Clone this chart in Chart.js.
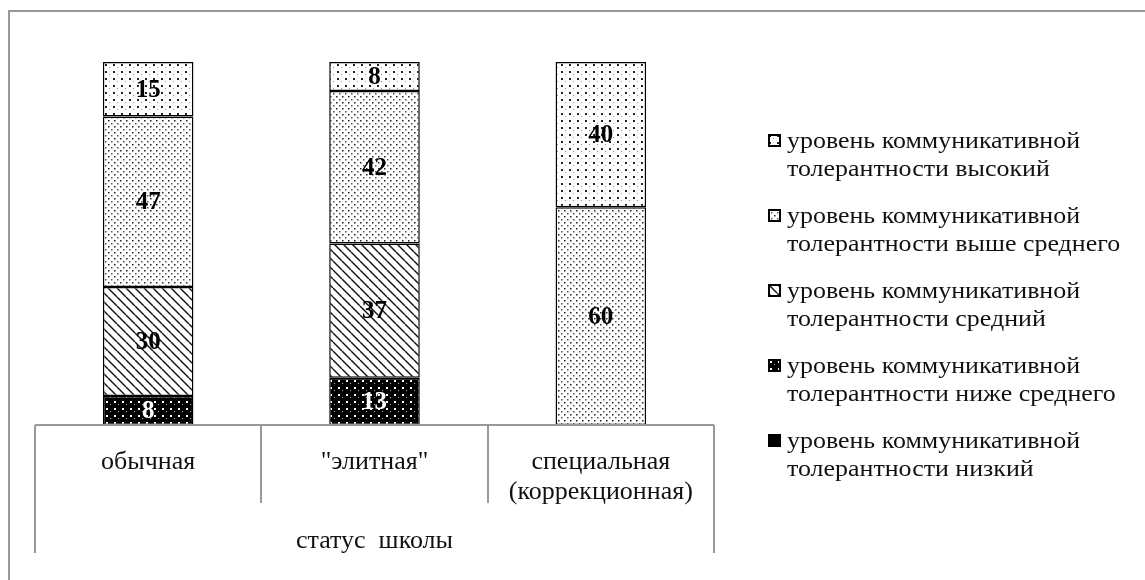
<!DOCTYPE html>
<html>
<head>
<meta charset="utf-8">
<script src="https://cdn.jsdelivr.net/npm/chart.js@4.4.1/dist/chart.umd.min.js"></script>
<style>
  body { margin: 0; background: #fff; }
  #wrap { position: relative; width: 1145px; height: 580px; overflow: hidden; }
  #frame { position: absolute; left: 8px; top: 10px; width: 2000px; height: 2000px;
           border-top: 2px solid #999; border-left: 2px solid #999; }
  #chart { position: absolute; left: 0; top: 0; }
  #legend { position: absolute; left: 768px; top: 126px; color: #111;
            font: 24px "Liberation Serif", "Times New Roman", serif; }
  .item { position: relative; padding-left: 19px; line-height: 28px; height: 56px;
          margin-bottom: 19px; white-space: pre; }
  .item canvas { position: absolute; left: 0; top: 8px; }
  .item span { display: inline-block; transform: scaleX(1.08); transform-origin: 0 0; }
</style>
</head>
<body>
<div id="wrap">
  <div id="frame"></div>
  <canvas id="chart" width="1145" height="580"></canvas>
  <div id="legend"></div>
</div>
<script>
// Данные: статус школы и уровни коммуникативной толерантности (%)
const categories = ["обычная", "\"элитная\"", ["специальная", "(коррекционная)"]];
const axisTitle = "статус  школы";
const low      = [0, 0, 0];
const belowAvg = [8, 13, 0];
const average  = [30, 37, 0];
const aboveAvg = [47, 42, 60];
const high     = [15, 8, 40];
const seriesLabels = [
  "уровень коммуникативной\nтолерантности низкий",
  "уровень коммуникативной\nтолерантности ниже среднего",
  "уровень коммуникативной\nтолерантности средний",
  "уровень коммуникативной\nтолерантности выше среднего",
  "уровень коммуникативной\nтолерантности высокий",
];

const FONT = "\"Liberation Serif\", \"Times New Roman\", serif";

// --- Штриховки ---
function makePattern(kind) {
  const c = document.createElement("canvas");
  const g = c.getContext("2d");
  if (kind === "solid") {
    c.width = c.height = 4; g.fillStyle = "#000"; g.fillRect(0, 0, 4, 4);
  } else if (kind === "blackdots") {
    c.width = 8; c.height = 7;
    g.fillStyle = "#000"; g.fillRect(0, 0, 8, 7);
    g.fillStyle = "#fff"; g.fillRect(2, 2, 2, 2);
    g.fillStyle = "#bbb"; g.fillRect(6, 5, 1, 1);
  } else if (kind === "hatch") {
    c.width = c.height = 9;
    g.fillStyle = "#fff"; g.fillRect(0, 0, 9, 9);
    g.strokeStyle = "#111"; g.lineWidth = 1.4;
    [-9, 0, 9].forEach(o => { g.beginPath(); g.moveTo(o, 0); g.lineTo(o + 9, 9); g.stroke(); });
  } else if (kind === "dense") {
    c.width = c.height = 6;
    g.fillStyle = "#fff"; g.fillRect(0, 0, 6, 6);
    g.fillStyle = "#222"; g.fillRect(0, 0, 1.5, 1.5);
    g.fillStyle = "#555"; g.fillRect(3, 3, 1.5, 1.5);
  } else {
    c.width = 8; c.height = 7;
    g.fillStyle = "#fff"; g.fillRect(0, 0, 8, 7);
    g.fillStyle = "#222"; g.fillRect(1, 1, 2, 2);
    g.fillStyle = "#888"; g.fillRect(5, 4, 1, 1);
  }
  return g.createPattern(c, "repeat");
}
const kinds = ["solid", "blackdots", "hatch", "dense", "sparse"];
const series = [low, belowAvg, average, aboveAvg, high];

const datasets = series.map((d, i) => ({
  label: seriesLabels[i],
  data: d,
  backgroundColor: makePattern(kinds[i]),
  borderColor: "#000",
  borderWidth: 1.5,
  borderSkipped: false,
  categoryPercentage: 0.8,
  barPercentage: 0.5,
  labelColor: i <= 1 ? "#fff" : "#000",
}));

// Подписи значений внутри сегментов
const valueLabels = {
  id: "valueLabels",
  afterDatasetsDraw(chart) {
    const ctx = chart.ctx;
    ctx.save();
    ctx.font = "bold 25px " + FONT;
    ctx.textAlign = "center";
    ctx.textBaseline = "middle";
    chart.data.datasets.forEach((ds, i) => {
      chart.getDatasetMeta(i).data.forEach((bar, j) => {
        const v = ds.data[j];
        if (!v) return;
        ctx.fillStyle = ds.labelColor;
        ctx.fillText(String(v), bar.x, (bar.y + bar.base) / 2 + 1);
      });
    });
    ctx.restore();
  }
};

// Ось категорий в виде таблицы
const axisBox = {
  id: "axisBox",
  afterDraw(chart) {
    const xs = chart.scales.x, ctx = chart.ctx;
    const n = categories.length, w = (xs.right - xs.left) / n, y0 = xs.top;
    ctx.save();
    ctx.strokeStyle = "#999";
    ctx.lineWidth = 2;
    ctx.beginPath();
    ctx.moveTo(xs.left, y0); ctx.lineTo(xs.right, y0);
    for (let i = 0; i <= n; i++) {
      const x = Math.round(xs.left + i * w);
      ctx.moveTo(x, y0);
      ctx.lineTo(x, (i === 0 || i === n) ? y0 + 128 : y0 + 78);
    }
    ctx.stroke();
    ctx.restore();
  }
};

const chart = new Chart(document.getElementById("chart"), {
  type: "bar",
  data: { labels: categories, datasets },
  options: {
    responsive: false,
    animation: false,
    layout: { padding: { left: 35, right: 431, top: 62, bottom: 0 } },
    plugins: { legend: { display: false }, tooltip: { enabled: false } },
    scales: {
      x: {
        stacked: true,
        grid: { display: false },
        border: { display: false },
        ticks: { color: "#111", padding: 14, font: { family: FONT, size: 26, lineHeight: "30px" } },
        title: { display: true, text: axisTitle, color: "#111",
                 font: { family: FONT, size: 26, lineHeight: "30px" }, padding: { top: 0, bottom: 24 } },
        afterFit(scale) { scale.height = 155; }
      },
      y: { stacked: true, display: false, min: 0, max: 100 }
    }
  },
  plugins: [valueLabels, axisBox]
});

// Легенда (в обратном порядке, как в оригинале)
const legend = document.getElementById("legend");
chart.data.datasets.slice().reverse().forEach(ds => {
  const item = document.createElement("div");
  item.className = "item";
  const m = document.createElement("canvas");
  m.width = 13; m.height = 13;
  const g = m.getContext("2d");
  g.fillStyle = ds.backgroundColor; g.fillRect(0, 0, 13, 13);
  g.strokeStyle = "#000"; g.lineWidth = 2; g.strokeRect(1, 1, 11, 11);
  item.appendChild(m);
  const t = document.createElement("span");
  t.textContent = ds.label;
  item.appendChild(t);
  legend.appendChild(item);
});
</script>
</body>
</html>
